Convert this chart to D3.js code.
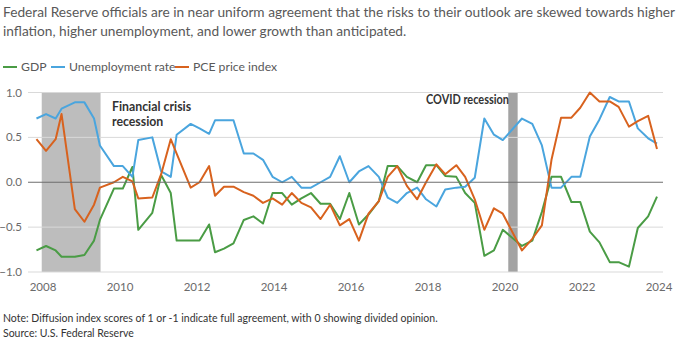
<!DOCTYPE html>
<html>
<head>
<meta charset="utf-8">
<script src="https://cdn.jsdelivr.net/npm/d3@7"></script>
<style>
  html, body { margin: 0; padding: 0; background: #fff; }
  svg { display: block; font-family: "Source Sans Pro", Lato, "Noto Sans", sans-serif; }
</style>
</head>
<body>
<svg id="chart" width="679" height="343"></svg>
<script>
// Meeting dates of the Summary of Economic Projections
const dates = [
  "2007-10-31","2008-01-30","2008-04-30","2008-06-25","2008-10-29","2009-01-28","2009-04-29","2009-06-24",
  "2009-11-04","2010-01-27","2010-04-28","2010-06-23","2010-11-03","2011-01-26","2011-04-27","2011-06-22",
  "2011-11-02","2012-01-25","2012-04-25","2012-06-20","2012-09-13","2012-12-12",
  "2013-03-20","2013-06-19","2013-09-18","2013-12-18",
  "2014-03-19","2014-06-18","2014-09-17","2014-12-17",
  "2015-03-18","2015-06-17","2015-09-17","2015-12-16",
  "2016-03-16","2016-06-15","2016-09-21","2016-12-14",
  "2017-03-15","2017-06-14","2017-09-20","2017-12-13",
  "2018-03-21","2018-06-13","2018-09-26","2018-12-19",
  "2019-03-20","2019-06-19","2019-09-18","2019-12-11",
  "2020-06-10","2020-09-16","2020-12-16",
  "2021-03-17","2021-06-16","2021-09-22","2021-12-15",
  "2022-03-16","2022-06-15","2022-09-21","2022-12-14",
  "2023-03-22","2023-06-14","2023-09-20","2023-12-13"
];

// Diffusion index of risks: GDP growth
const gdp = [
  -0.76,-0.71,-0.76,-0.83,-0.83,-0.81,-0.65,-0.42,-0.07,-0.07,0.17,-0.53,-0.34,0.08,-0.12,-0.65,
  -0.65,-0.65,-0.47,-0.78,-0.74,-0.68,
  -0.42,-0.38,-0.46,-0.12,
  -0.12,-0.25,-0.18,-0.12,
  -0.24,-0.24,-0.41,-0.12,
  -0.47,-0.36,-0.21,0.18,
  0.18,0.06,0.00,0.19,
  0.19,0.07,0.06,-0.12,
  -0.23,-0.82,-0.76,-0.53,
  -0.71,-0.65,-0.33,
  0.06,0.06,-0.22,-0.22,
  -0.55,-0.67,-0.89,-0.89,
  -0.94,-0.51,-0.38,-0.16
];

// Diffusion index of risks: unemployment rate
const unemployment = [
  0.71,0.76,0.71,0.82,0.89,0.89,0.71,0.41,0.18,0.18,0.06,0.47,0.50,0.12,0.06,0.53,
  0.65,0.60,0.54,0.69,0.69,0.69,
  0.32,0.32,0.25,0.06,
  0.00,0.06,-0.06,-0.06,
  0.00,0.06,0.29,0.00,
  0.12,0.18,0.06,-0.17,
  -0.23,-0.12,-0.06,-0.19,
  -0.27,-0.08,-0.06,-0.05,
  0.05,0.71,0.53,0.47,
  0.71,0.65,0.41,
  -0.06,-0.06,0.06,0.06,
  0.51,0.70,0.95,0.90,
  0.90,0.60,0.49,0.43
];

// Diffusion index of risks: PCE price inflation
const pce = [
  0.48,0.35,0.48,0.76,-0.30,-0.44,-0.25,-0.06,0.00,0.06,0.01,-0.18,-0.17,0.09,0.48,0.32,
  -0.06,0.00,0.18,-0.15,-0.05,-0.05,
  -0.11,-0.15,-0.23,-0.18,
  -0.25,-0.12,-0.23,-0.28,
  -0.41,-0.25,-0.48,-0.41,
  -0.65,-0.35,-0.21,0.06,
  0.18,-0.04,-0.19,0.00,
  0.20,0.09,0.19,0.06,
  -0.19,-0.53,-0.29,-0.35,
  -0.76,-0.63,-0.48,
  0.25,0.72,0.72,0.83,
  1.00,0.90,0.90,0.84,
  0.62,0.68,0.74,0.37
];

const seriesNames = ["GDP", "Unemployment rate", "PCE price index"];
const seriesColors = ["#4a9c45", "#4aa5de", "#d8621e"];
const seriesValues = [gdp, unemployment, pce];

// Recession periods (NBER)
const recessions = [
  { name: "Financial crisis", start: "2007-12-20", end: "2009-06-30" },
  { name: "COVID", start: "2020-02-01", end: "2020-04-30" }
];

const yTicks = [1.0, 0.5, 0.0, -0.5, -1.0];
const xTickYears = [2008, 2010, 2012, 2014, 2016, 2018, 2020, 2022, 2024];

const svg = d3.select("#chart");
const parse = d3.timeParse("%Y-%m-%d");

const x = d3.scaleTime()
  .domain([new Date(2008, 0, 1), new Date(2024, 0, 1)])
  .range([43, 659]);
const y = d3.scaleLinear().domain([-1, 1]).range([272, 92.5]);
const gridLeft = 28, gridRight = 663;

// Title (first line fitted to the full width)
const title = svg.append("g").attr("fill", "#595959").attr("font-size", 13.7);
title.append("text").attr("x", 3).attr("y", 17)
  .attr("textLength", 672).attr("lengthAdjust", "spacing")
  .text("Federal Reserve officials are in near uniform agreement that the risks to their outlook are skewed towards higher");
title.append("text").attr("x", 3).attr("y", 36)
  .text("inflation, higher unemployment, and lower growth than anticipated.");

// Legend
const legend = svg.append("g").attr("transform", "translate(3,67)");
const legendX = [0, 48, 172];
seriesNames.forEach((name, i) => {
  const g = legend.append("g").attr("transform", `translate(${legendX[i]},0)`);
  g.append("line").attr("x1", 0).attr("x2", 14).attr("y1", 0).attr("y2", 0)
    .attr("stroke", seriesColors[i]).attr("stroke-width", 2);
  g.append("text").attr("x", 18).attr("y", 4)
    .attr("fill", "#595959").attr("font-size", 12.2).text(name);
});

// Recession shading
svg.append("g").selectAll("rect")
  .data(recessions)
  .join("rect")
  .attr("x", d => x(parse(d.start)))
  .attr("width", d => Math.max(6, x(parse(d.end)) - x(parse(d.start))))
  .attr("y", y(1))
  .attr("height", y(-1) - y(1))
  .attr("fill", (d, i) => i === 0 ? "#bdbdbd" : "#a3a3a3");

// Gridlines and y labels
const yAxis = svg.append("g");
yAxis.selectAll("line")
  .data(yTicks.filter(t => t !== 0))
  .join("line")
  .attr("x1", gridLeft).attr("x2", gridRight)
  .attr("y1", d => y(d)).attr("y2", d => y(d))
  .attr("stroke", "#d9d9d9").attr("stroke-width", 1);
yAxis.selectAll("text")
  .data(yTicks)
  .join("text")
  .attr("x", 22).attr("y", d => y(d) + 4)
  .attr("text-anchor", "end")
  .attr("fill", "#6b6b6b").attr("font-size", 11.5)
  .text(d => d3.format(".1f")(d).replace("-", "\u2212"));

// Recession labels
svg.append("text")
  .attr("x", 112).attr("y", 111)
  .attr("fill", "#333").attr("font-size", 12.3).attr("font-weight", "bold")
  .selectAll("tspan").data(["Financial crisis", "recession"]).join("tspan")
  .attr("x", 112).attr("dy", (d, i) => i === 0 ? 0 : 15).text(d => d);
svg.append("text")
  .attr("x", 426).attr("y", 104)
  .attr("fill", "#333").attr("font-size", 12.3).attr("font-weight", "bold")
  .attr("textLength", 83).attr("lengthAdjust", "spacingAndGlyphs")
  .text("COVID recession");

// Lines
const line = d3.line()
  .x((d, i) => x(parse(dates[i])))
  .y(d => y(d));
svg.append("g").selectAll("path")
  .data(seriesValues)
  .join("path")
  .attr("d", d => line(d))
  .attr("fill", "none")
  .attr("stroke", (d, i) => seriesColors[i])
  .attr("stroke-width", 2)
  .attr("stroke-linejoin", "round");

// Zero line
svg.append("line")
  .attr("x1", gridLeft).attr("x2", gridRight)
  .attr("y1", y(0)).attr("y2", y(0))
  .attr("stroke", "#6e6e6e").attr("stroke-width", 1.2);

// X axis labels
svg.append("g").selectAll("text")
  .data(xTickYears)
  .join("text")
  .attr("x", d => x(new Date(d, 0, 1)))
  .attr("y", 291)
  .attr("text-anchor", "middle")
  .attr("fill", "#6b6b6b").attr("font-size", 11.5)
  .text(d => d);

// Footnotes
svg.append("text").attr("x", 3).attr("y", 322)
  .attr("fill", "#333").attr("font-size", 10.5)
  .text("Note: Diffusion index scores of 1 or -1 indicate full agreement, with 0 showing divided opinion.");
svg.append("text").attr("x", 3).attr("y", 337)
  .attr("fill", "#333").attr("font-size", 10.5)
  .text("Source: U.S. Federal Reserve");
</script>
</body>
</html>
